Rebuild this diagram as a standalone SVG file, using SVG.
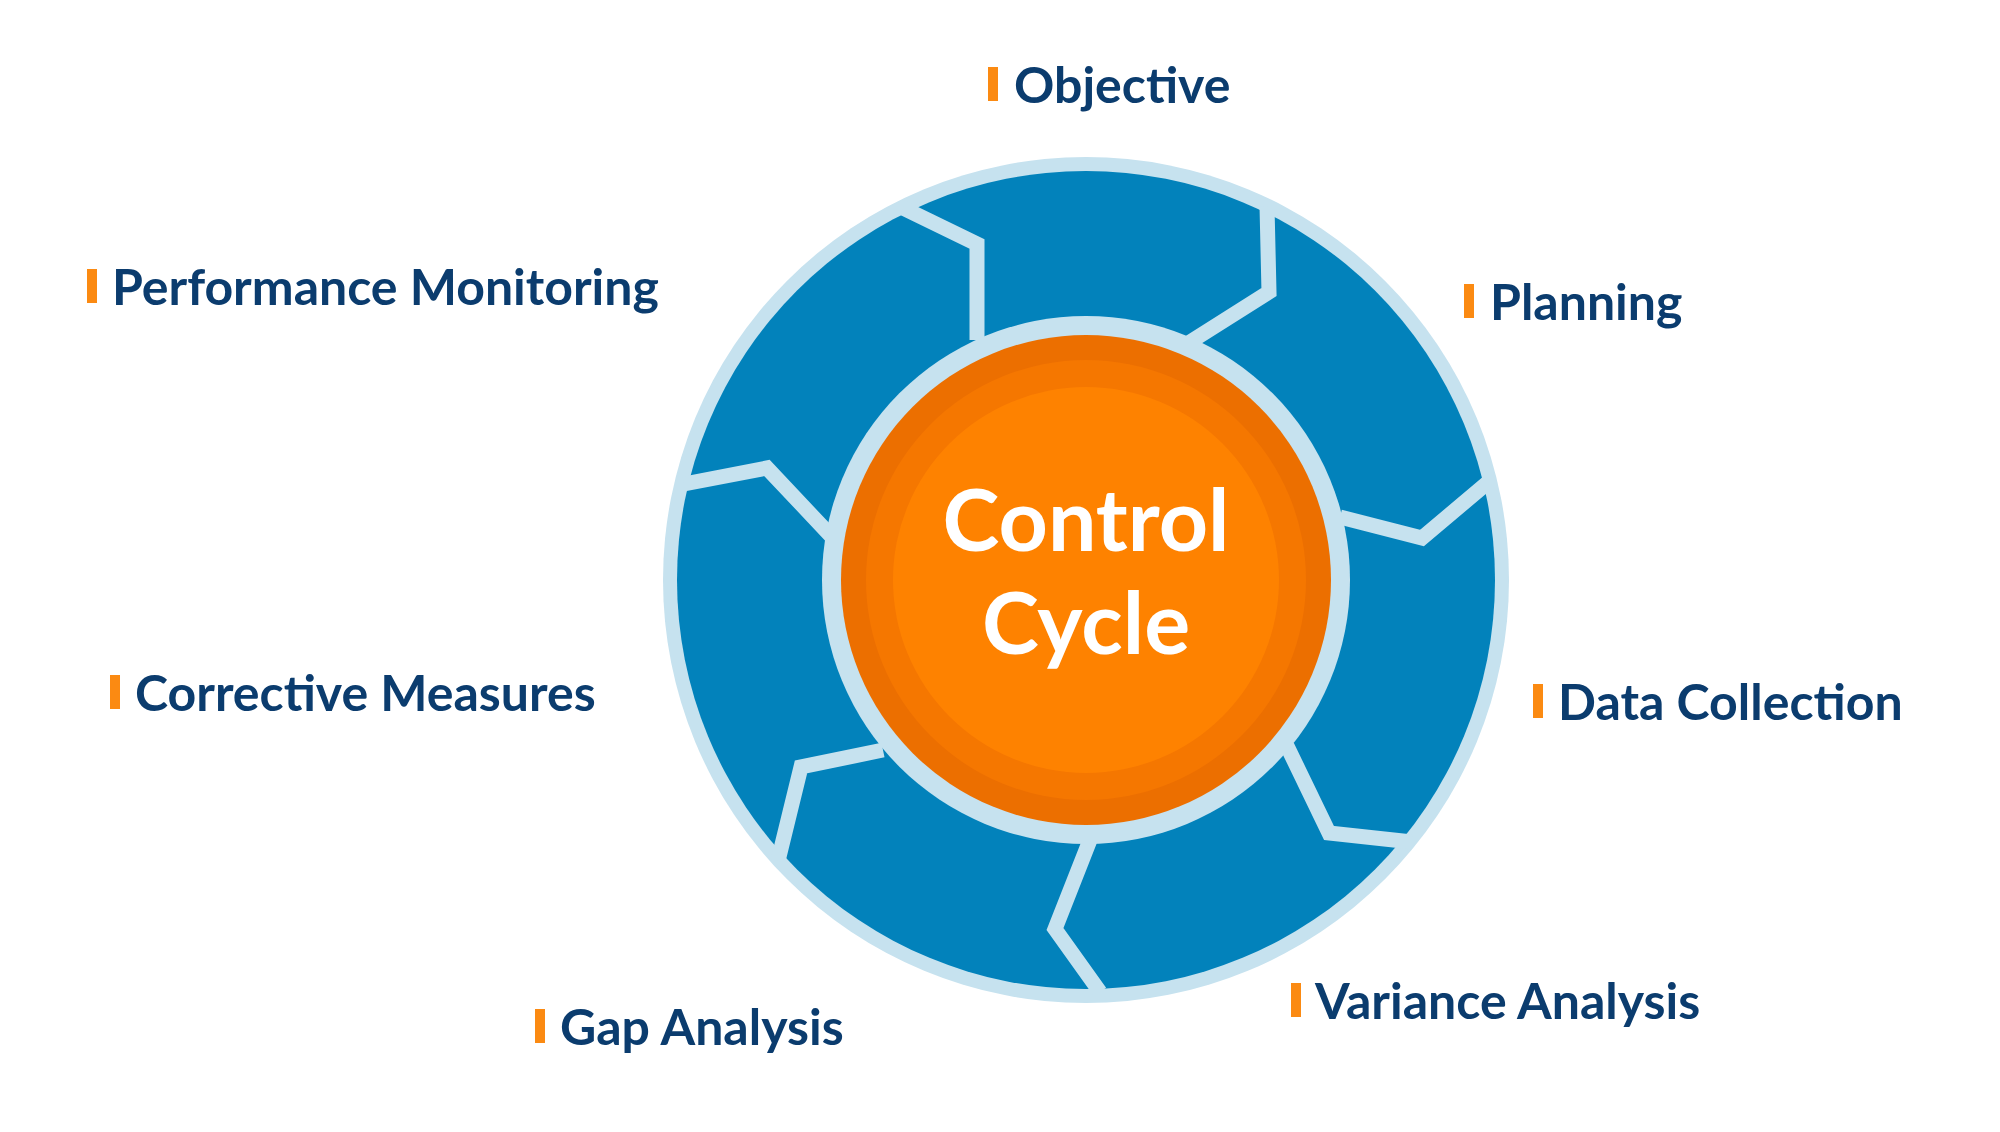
<svg xmlns="http://www.w3.org/2000/svg" width="2000" height="1132" viewBox="0 0 2000 1132">
<style>
.lbl{font-family:Lato,"Open Sans",sans-serif;font-weight:700;font-size:50px;fill:#0b3c6e}
.bar{fill:#fb8a12}
.sep{fill:none;stroke:#c6e2ef;stroke-width:15;stroke-linejoin:miter}
.ctr{font-family:Lato,"Open Sans",sans-serif;font-weight:700;font-size:86px;fill:#fff;text-anchor:middle}
</style>
<rect width="2000" height="1132" fill="#fff"/>
<g id="wheel">
<circle cx="1086" cy="580" r="423" fill="#c6e2ef"/>
<circle cx="1086" cy="580" r="409" fill="#0282bb"/>
</g>
<g id="connectors">
<polyline class="sep" points="1190,342 1269,292 1267,206"/>
<polyline class="sep" points="1340,517 1422,538 1492,479"/>
<polyline class="sep" points="1287,746 1329,833 1412,842"/>
<polyline class="sep" points="1090,840 1055,929 1100,992"/>
<polyline class="sep" points="883,750 801,767 778,861"/>
<polyline class="sep" points="833,538 767,468 684,484"/>
<polyline class="sep" points="977,340 977,244 903,208"/>
</g>
<g id="center">
<circle cx="1086" cy="580" r="264" fill="#c6e2ef"/>
<circle cx="1086" cy="580" r="245" fill="#ec6f00"/>
<circle cx="1086" cy="580" r="220" fill="#f57700"/>
<circle cx="1086" cy="580" r="193" fill="#fe8200"/>
<text class="ctr" x="1086" y="551">Control</text>
<text class="ctr" x="1086" y="654">Cycle</text>
</g>
<g id="objective"><rect class="bar" x="988" y="67" width="10" height="34"/><text class="lbl" x="1014" y="103">Objective</text></g>
<g id="planning"><rect class="bar" x="1464" y="284" width="10" height="34"/><text class="lbl" x="1490" y="320">Planning</text></g>
<g id="data-collection"><rect class="bar" x="1533" y="684" width="10" height="34"/><text class="lbl" x="1558" y="720">Data Collection</text></g>
<g id="variance-analysis"><rect class="bar" x="1291" y="983" width="10" height="34"/><text class="lbl" x="1315" y="1019">Variance Analysis</text></g>
<g id="gap-analysis"><rect class="bar" x="535" y="1009" width="10" height="34"/><text class="lbl" x="560" y="1045">Gap Analysis</text></g>
<g id="corrective-measures"><rect class="bar" x="110" y="675" width="10" height="34"/><text class="lbl" x="135" y="711">Corrective Measures</text></g>
<g id="performance-monitoring"><rect class="bar" x="87" y="269" width="10" height="34"/><text class="lbl" x="112" y="305">Performance Monitoring</text></g>
</svg>
